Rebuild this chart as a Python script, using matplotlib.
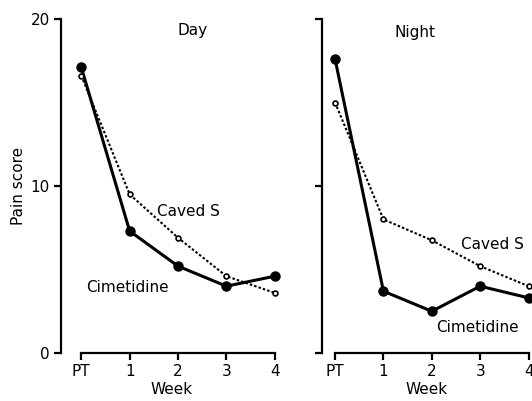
import matplotlib
matplotlib.use("Agg")
import matplotlib.pyplot as plt

weeks = ["PT", "1", "2", "3", "4"]
day_cimetidine = [17.1, 7.3, 5.2, 4.0, 4.6]
day_caved = [16.6, 9.5, 6.9, 4.6, 3.6]
night_cimetidine = [17.6, 3.7, 2.5, 4.0, 3.3]
night_caved = [15.0, 8.0, 6.75, 5.2, 4.0]
yticks = [0, 10, 20]

plt.rcParams['font.family'] = ['DejaVu Sans']
fig = plt.figure(figsize=(5.32, 4.01), dpi=100)

H = 401.0; W = 532.0
bottom = (H - 353) / H
height = (353 - 19) / H
ax1 = fig.add_axes([61 / W, bottom, (282 - 61) / W, height])
ax2 = fig.add_axes([322 / W, bottom, (531 - 322) / W, height])

x = list(range(len(weeks)))

def style(ax, cim, cav, xl, show_ylabels):
    ax.plot(x, cim, color='black', lw=2.2, marker='o', ms=6.5, mfc='black',
            mec='black', clip_on=False, zorder=3)
    ax.plot(x, cav, color='black', lw=1.5, ls=(0, (1.2, 1.0)), marker='o', ms=3.5,
            mfc='white', mec='black', mew=1.2, clip_on=False, zorder=4)
    ax.set_xlim(*xl)
    ax.set_ylim(0, 20)
    for s in ['top', 'right']:
        ax.spines[s].set_visible(False)
    ax.spines['left'].set_bounds(0, 20)
    ax.spines['bottom'].set_bounds(0, 4)
    ax.spines['left'].set_linewidth(1.6)
    ax.spines['bottom'].set_linewidth(1.6)
    ax.set_xticks(x)
    ax.set_xticklabels(weeks, fontsize=11)
    ax.set_yticks(yticks)
    if show_ylabels:
        ax.set_yticklabels([str(v) for v in yticks], fontsize=11)
    else:
        ax.set_yticklabels([])
    ax.tick_params(axis='both', direction='out', width=1.6, length=5, pad=3)
    ax.set_xlabel("Week", fontsize=11, labelpad=2)

style(ax1, day_cimetidine, day_caved, (-0.42, 4.15), True)
style(ax2, night_cimetidine, night_caved, (-0.27, 4.05), False)
ax1.set_ylabel("Pain score", fontsize=11, labelpad=3)

ax1.text(2.3, 19.3, "Day", fontsize=11, ha='center', va='center')
ax2.text(1.65, 19.2, "Night", fontsize=11, ha='center', va='center')
ax1.text(2.22, 8.5, "Caved S", fontsize=11, ha='center', va='center')
ax1.text(0.95, 3.9, "Cimetidine", fontsize=11, ha='center', va='center')
ax2.text(3.25, 6.5, "Caved S", fontsize=11, ha='center', va='center')
ax2.text(2.95, 1.5, "Cimetidine", fontsize=11, ha='center', va='center')

fig.savefig("out.png", dpi=100)
